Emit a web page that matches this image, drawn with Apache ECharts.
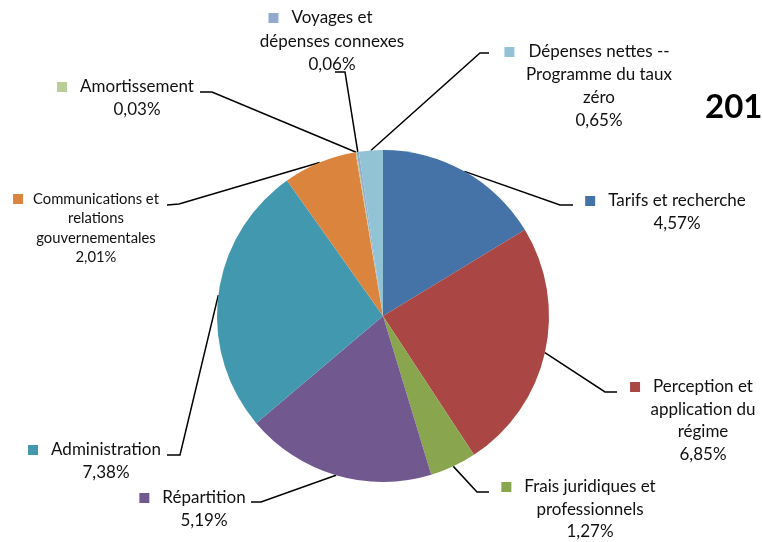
<!DOCTYPE html>
<html>
<head>
<meta charset="utf-8">
<script src="https://cdn.jsdelivr.net/npm/echarts@6/dist/echarts.min.js"></script>
<style>html,body{margin:0;padding:0;background:#fff}#c{width:762px;height:542px}</style>
</head>
<body>
<div id="c"></div>
<script>
// ---- data ----
var categories = ["Tarifs et recherche", "Perception et application du régime", "Frais juridiques et professionnels", "Répartition", "Administration", "Communications et relations gouvernementales", "Amortissement", "Voyages et dépenses connexes", "Dépenses nettes -- Programme du taux zéro"];
var values = [4.57, 6.85, 1.27, 5.19, 7.38, 2.01, 0.03, 0.06, 0.65];
var valueLabels = ["4,57%", "6,85%", "1,27%", "5,19%", "7,38%", "2,01%", "0,03%", "0,06%", "0,65%"];
var titleText = "201";

// ---- styles / layout ----
var colors = ["#4572A7", "#AA4643", "#89A54E", "#71588F", "#4198AF", "#DB843D", "#B9CD96", "#93A9CF", "#91C3D5"];
var wrapped = [
  ["Tarifs et recherche"],
  ["Perception et", "application du", "régime"],
  ["Frais juridiques et", "professionnels"],
  ["Répartition"],
  ["Administration"],
  ["Communications et", "relations", "gouvernementales"],
  ["Amortissement"],
  ["Voyages et", "dépenses connexes"],
  ["Dépenses nettes --", "Programme du taux", "zéro"]
];
// label centre x, first-line centre y, line height, font size, gap
var labelPos = [
  [677, 201, 22.5, 17, 13],
  [703, 387, 22.5, 17, 13],
  [590, 487, 22.5, 17, 13],
  [204, 498, 22.5, 17, 13],
  [106, 450, 22.5, 17, 13],
  [96, 199, 19.5, 14.8, 10],
  [137, 87, 22.5, 17, 13],
  [332, 18, 23.5, 17, 13],
  [599, 52, 23, 17, 14]
];
var elbows = [[560,205],[605,392],[477,492],[261,502],[180,455],[179,204],[212,92],[345,72],[480,53]];
var ends = [[573,205],[617,392],[489,492],[251,502],[167,455],[167,205],[200,92],[335,72],[489,53]];
var CX = 383, CY = 316, R = 166;

var rich = {};
colors.forEach(function (c, i) {
  rich['sq' + i] = {width: 10, height: 10, backgroundColor: c, verticalAlign: 'middle'};
  rich['g' + i] = {width: labelPos[i][4]};
  rich['p' + i] = {width: 10 + labelPos[i][4]};
});

var total = values.reduce(function (a, b) { return a + b; }, 0);

var data = categories.map(function (n, i) {
  return {
    name: n, value: values[i],
    itemStyle: {color: colors[i]},
    label: {fontSize: labelPos[i][3], lineHeight: labelPos[i][2]}
  };
});

var chart = echarts.init(document.getElementById('c'), null, {renderer: 'canvas'});
chart.setOption({
  animation: false,
  title: {
    text: titleText, left: 705, top: 91, padding: 0,
    textStyle: {fontFamily: 'Lato', fontSize: 33, fontWeight: 'bold', color: '#000'}
  },
  series: [{
    type: 'pie',
    center: [CX, CY],
    radius: R,
    startAngle: 90,
    clockwise: true,
    avoidLabelOverlap: false,
    emphasis: {disabled: true},
    itemStyle: {borderWidth: 0},
    label: {
      show: true,
      position: 'outside',
      fontFamily: 'Lato',
      fontSize: 17,
      lineHeight: 22.5,
      color: '#111',
      align: 'center',
      rich: rich,
      formatter: function (p) {
        var i = p.dataIndex;
        var lines = wrapped[i].slice();
        lines[0] = '{sq' + i + '|}{g' + i + '|}' + lines[0] + '{p' + i + '|}';
        lines.push(valueLabels[i]);
        return lines.join('\n');
      }
    },
    labelLine: {show: true, length: 10, length2: 10, lineStyle: {color: '#000', width: 1.5}},
    labelLayout: function (params) {
      var i = params.dataIndex;
      var p = labelPos[i];
      var edge;
      if (params.labelLinePoints && params.labelLinePoints[0]) {
        edge = params.labelLinePoints[0];
      } else {
        var before = 0;
        for (var k = 0; k < i; k++) before += values[k];
        var mid = (before + values[i] / 2) / total * 2 * Math.PI;
        edge = [CX + R * Math.sin(mid), CY - R * Math.cos(mid)];
      }
      return {
        x: p[0], y: p[1] - p[2] / 2,
        align: 'center', verticalAlign: 'top',
        labelLinePoints: [edge, elbows[i], ends[i]]
      };
    },
    data: data
  }]
});
</script>
</body>
</html>
